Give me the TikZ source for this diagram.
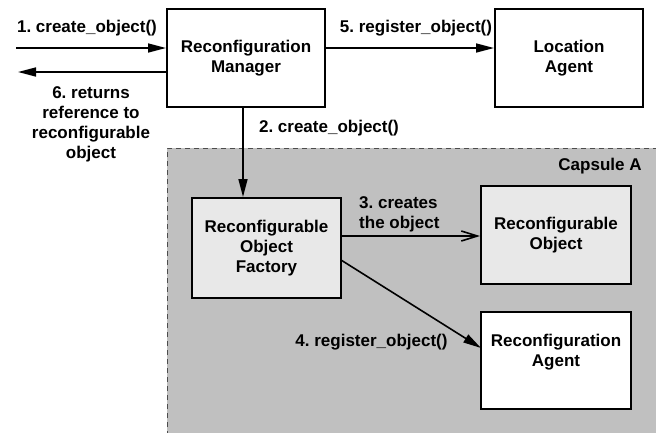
\documentclass[tikz,border=0pt]{standalone}
\usepackage{fontspec}
\setmainfont{Liberation Sans}
\usetikzlibrary{arrows.meta}
\definecolor{capsulegray}{HTML}{C0C0C0}
\definecolor{boxgray}{HTML}{E8E8E8}
\frenchspacing
\begin{document}
\begin{tikzpicture}[x=1pt,y=-1pt,
  every node/.style={font=\fontsize{17}{20}\selectfont\bfseries\frenchspacing, align=center},
  comp/.style={draw=black, line width=2pt, fill=white, inner sep=0pt},
  arr/.style={line width=1.6pt, -{Triangle[length=18pt,width=9pt]}},
  openarr/.style={line width=1.6pt, -{Straight Barb[length=16pt,width=10pt,line width=1.6pt]}},
  lbl/.style={inner sep=0pt}]
\useasboundingbox (0,0) rectangle (656,432);
% capsule
\fill[capsulegray] (167,148) rectangle (660,436);
\draw[dashed, line width=0.8pt, black!70, dash pattern=on 5pt off 4pt] (167,436) -- (167,148) -- (660,148);
% nodes
\node[comp, minimum width=158pt, minimum height=98pt] (mgr) at (246,58) {Reconfiguration\\Manager};
\node[comp, minimum width=148pt, minimum height=98pt] (loc) at (569,58) {Location\\Agent};
\node[comp, fill=boxgray, minimum width=149pt, minimum height=100pt] (fac) at (266.5,248) {Reconfigurable\\Object\\Factory};
\node[comp, fill=boxgray, minimum width=150pt, minimum height=98pt] (ro) at (556,235) {Reconfigurable\\Object};
\node[comp, minimum width=150pt, minimum height=97pt] (ra) at (556,360.5) {Reconfiguration\\Agent\\\mbox{}};
% coordinates
\coordinate (in1) at (16,48);
\coordinate (out6) at (18,72);
\coordinate (x2) at (243,0);
\coordinate (y3) at (0,236);
\coordinate (s4) at (341,260);
\coordinate (e4) at (481,348);
% connectors
\draw[arr] (in1) -- (in1 -| mgr.west);
\draw[arr] (out6 -| mgr.west) -- (out6);
\draw[arr] (mgr.east |- in1) -- (loc.west |- in1);
\draw[arr] (mgr.south -| x2) -- (fac.north -| x2);
\draw[openarr] (fac.east |- y3) -- (ro.west |- y3);
\draw[arr] (s4) -- (e4);
% labels
\node[lbl] (l1) at (87,28) {1. create\_object()};
\node[lbl] (l5) at (416,28) {5. register\_object()};
\node[lbl] (l2) at (329,128) {2. create\_object()};
\node[lbl] (l6) at (91,124.5) {6. returns\\reference to\\reconfigurable\\object};
\node[lbl, anchor=west, align=left] (l3) at (359,214) {3. creates\\the object};
\node[lbl] (l4) at (371.5,342) {4. register\_object()};
\node[lbl] (cap) at (600,166) {Capsule A};
\end{tikzpicture}
\end{document}
